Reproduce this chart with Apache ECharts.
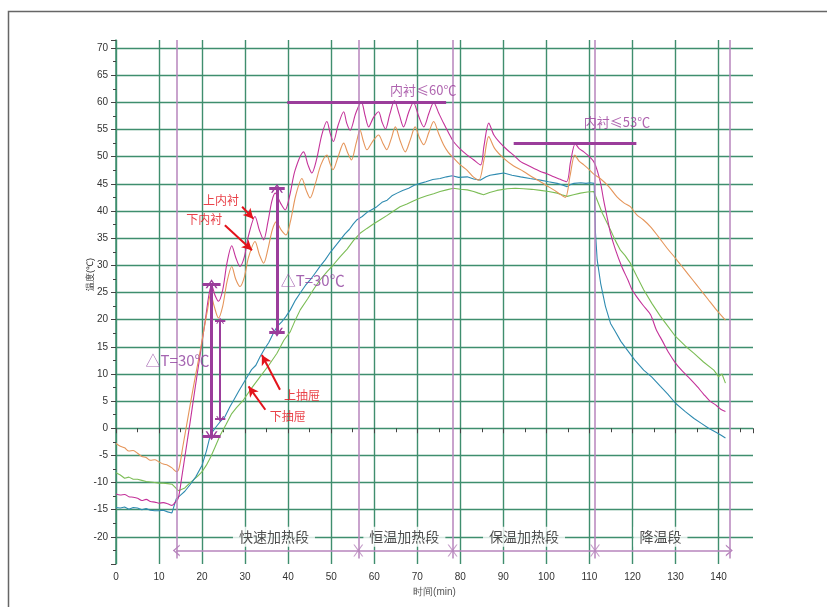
<!DOCTYPE html>
<html lang="zh-CN">
<head>
  <meta charset="utf-8">
  <title>温度曲线</title>
  <script src="https://cdn.jsdelivr.net/npm/echarts@6/dist/echarts.min.js"></script>
  <style>
    html, body { margin: 0; padding: 0; background: #fff; }
    #chart { width: 827px; height: 607px; }
  </style>
</head>
<body>
  <div id="chart"></div>
  <script>
    // 曲线数据：[时间(min), 温度(℃)]
    var upperLiner = [[0,-12.1],[1,-12.3],[2,-12.2],[3,-12.6],[4,-12.7],[5,-12.9],[6,-13.3],[7,-13.1],[8,-13.5],[9,-13.6],[10,-13.8],[11,-13.7],[12,-13.9],[13,-14.2],[13.8,-13.6],[14.5,-12.8],[15.3,-8.9],[16.2,-4.2],[17.2,1],[18.4,7.5],[19.6,13.8],[20.8,20.2],[21.6,24.6],[22.2,26.4],[23,24.5],[23.8,23.4],[24.8,25.5],[25.8,30.5],[26.9,33.6],[27.8,31.5],[28.8,29.8],[29.8,31.5],[30.8,35.5],[32.3,39],[33.3,36.5],[34.3,34.7],[35.3,38],[36.2,41.8],[37,43.3],[38.2,41.5],[39.3,40.2],[40.4,43],[41.6,47.5],[43.6,50.9],[44.6,48.5],[45.5,47],[46.6,49.5],[47.8,54],[49,56.5],[49.8,54.2],[50.5,52.8],[51.6,55.8],[52.9,58.3],[53.6,56.2],[54.4,54.9],[55.7,58],[57,60.1],[57.9,57.5],[58.7,55.5],[59.8,57.2],[61,58.3],[61.8,56.4],[62.6,55.1],[63.6,57.8],[64.7,60.3],[65.8,57.8],[66.8,55.5],[68,58.2],[69.1,60],[70.3,57.5],[71.5,55.5],[72.7,58],[73.8,60],[75,58],[76.1,56.2],[77.2,54.5],[78.4,52.8],[80,51.4],[81.6,50.3],[83,49.5],[84.7,48.5],[85.5,52],[86.6,56.2],[87.8,54],[89.3,52.5],[91,51.2],[92.5,50.2],[94,49.1],[96,48.3],[98.6,47.3],[100,46.9],[101.7,46.3],[103,45.9],[104.7,45.4],[105.6,49],[106.7,52.4],[107.6,51.5],[108.7,50.9],[110,50],[111,49.1],[111.8,47.5],[112.6,45.1],[113.3,42],[114.2,38.5],[114.9,35.9],[116,33],[117.5,29.8],[119,27.2],[119.9,25.5],[121,24.2],[122.5,22.6],[124.2,20.9],[125.5,18.2],[127,16],[128.5,13.8],[130,12],[131.5,10.6],[133,9.4],[135,7.7],[136.5,6.3],[138,5],[139.5,4.2],[140.5,3.5],[141.6,3.1]];
    var lowerLiner = [[0,-2.8],[1,-3.3],[2,-3.6],[3,-4.2],[4,-4.1],[5,-4.6],[6,-5.2],[7,-5.4],[8,-5.9],[9,-5.8],[10,-6.2],[11,-6.6],[12,-6.8],[13,-7.3],[14.1,-8],[14.7,-7.2],[15.5,-3.5],[16.5,1],[17.5,5.5],[18.5,9.8],[19.5,14],[20.5,18.5],[21.3,22],[22,24.8],[22.8,22.5],[23.8,20.3],[24.8,22.5],[25.8,27],[26.9,29.8],[27.8,27.5],[28.8,26.1],[29.8,27.8],[30.8,31.5],[32.3,34.4],[33.3,32],[34.3,30.4],[35.3,33],[36.3,36.5],[37.2,38],[38.4,36.5],[39.5,35.6],[40.5,38],[41.8,43],[43.2,46],[44.2,43.8],[45.1,42.4],[46.3,45],[47.6,48.5],[49,50.3],[49.7,48.8],[50.4,47.6],[51.6,50],[52.9,52.5],[53.8,50.8],[54.7,49.4],[55.8,52.5],[56.7,54.9],[57.5,52.8],[58.3,51.3],[59.6,52.8],[61,54],[62,52.5],[62.9,51.3],[63.9,53.2],[64.9,55.5],[66,53],[67.2,50.9],[68.4,53.2],[69.5,55.5],[70.5,53.5],[71.5,52.2],[72.7,54.5],[73.8,56.5],[75,54.2],[76.1,52.2],[77.2,50.8],[78.4,49.8],[80,48.5],[81.6,47.5],[83,46.3],[84.3,45.7],[85.5,49.5],[86.6,53.7],[88,51.5],[90.1,49.7],[92.4,48.3],[94.7,47.3],[96.6,46.3],[98.6,45.4],[100,44.7],[101.7,43.9],[103,43.2],[104.4,42.5],[105.5,46.5],[106.6,50.3],[107.6,49.2],[108.7,48.5],[110,47.6],[111,46.8],[112.5,46],[114.5,44.5],[116.4,42.6],[118,41.5],[119.5,40.8],[121,39.3],[122.5,38.4],[124.2,37.1],[126,35.3],[128,33.2],[130,31.3],[132,29.3],[134,27.3],[135.8,25.5],[137.5,23.8],[139.5,21.8],[141.6,19.9]];
    var upperDrawer = [[0,-14.6],[1,-14.7],[2,-14.5],[3,-14.9],[4,-14.6],[5,-14.7],[6,-15],[7,-14.8],[8,-15.1],[9,-15.2],[10,-15.2],[11,-15.1],[12,-15.4],[13,-15.6],[14,-13],[15,-12.3],[16,-11.6],[17.2,-10.4],[18.5,-9],[20,-6.8],[21,-4.2],[21.9,-1.3],[23,0],[24.2,1.2],[25.3,2.1],[26.5,4],[27.5,5.4],[28.5,6.8],[29.6,8.3],[30.5,9.5],[31.5,10.8],[32.5,11.6],[33.5,13.2],[34.5,14.6],[35.5,15.8],[36.5,17.4],[37.4,18.7],[38.5,19.6],[39.5,20.6],[40.5,21.8],[41.7,23.6],[42.8,24.9],[44,26.3],[45.2,27.4],[46.3,28.6],[47.4,29.8],[48.6,31],[49.8,32.4],[51,33.6],[52.1,34.7],[53.2,35.8],[54.2,36.6],[55.1,37.6],[56,38.4],[57.2,39],[58.4,39.8],[59.5,40.3],[60.6,40.8],[61.8,41.6],[63,42],[64.1,42.8],[65.3,43.3],[66.6,43.8],[68,44.2],[69.4,44.8],[70.7,45.1],[72,45.4],[73.6,45.8],[75.3,46],[76.8,46.3],[78.1,46.5],[79.6,46.2],[81.6,46.3],[83.1,45.9],[84.7,45.7],[86,46.3],[86.9,46.6],[88.5,46.8],[90.1,47],[92,46.6],[94,46.3],[96.2,46],[98.6,45.7],[100.5,45.4],[102.5,45.1],[103.7,44.8],[104.8,44.5],[105.6,44.9],[106.4,45.1],[108,45.2],[109.2,45.1],[110.2,45.2],[111.1,45.1],[111.4,36],[111.8,31],[112.6,26.7],[113.7,22.5],[114.9,19.3],[116,17.8],[117.3,16],[118.8,14.4],[120.5,12.6],[122.6,10.7],[124.5,9.4],[126.5,7.7],[128.2,6.3],[130,4.6],[132.2,3.1],[134.3,1.8],[136,0.9],[137.7,0],[139.5,-0.8],[140.6,-1.3],[141.6,-1.8]];
    var lowerDrawer = [[0,-8.2],[1,-8.6],[2,-9.2],[3,-9],[4,-9.4],[5,-9.4],[6,-9.6],[7,-9.8],[8,-9.9],[9,-10],[10,-10.1],[11,-10.1],[12,-10.2],[13,-10.3],[14.5,-11.5],[16,-11],[17,-10.2],[18,-9.5],[19,-8.8],[20,-8],[21,-6.8],[22,-5.3],[23,-3.5],[24.2,-1.3],[25.5,0.6],[26.8,2.6],[28,3.8],[29.6,5.2],[31.5,7.4],[33.5,9.5],[35.5,11.6],[37.4,13.8],[39,16.2],[40.5,17.8],[41.7,20],[42.8,21.8],[44.5,23.8],[46,25.7],[47.4,27.3],[49,28.8],[50.6,30.2],[52.1,31.6],[53.7,33],[55.2,34.6],[56.7,35.9],[58.3,36.8],[59.8,37.6],[61.4,38.4],[63,39.2],[64.5,40],[66,40.8],[67.6,41.3],[69.2,41.9],[70.7,42.4],[72.2,42.8],[73.8,43.2],[75.3,43.6],[76.8,43.9],[78.4,44.2],[80,44],[81.6,43.9],[83.1,43.6],[84.2,43.3],[85.4,43],[86.8,43.4],[88.5,43.8],[90.9,44.1],[92.8,44.2],[94.7,44.1],[96.6,44],[98.6,43.8],[100.5,43.6],[102.5,43.3],[103.6,43],[104.8,42.7],[106.3,43],[107.9,43.3],[109.5,43.5],[111,43.6],[111.8,42],[113,39.6],[114,38],[114.9,36.5],[116,34.6],[117.2,32.8],[118.3,31.8],[119.5,30.4],[121,28],[122.6,25.5],[124.5,23],[126.5,20.6],[128.2,18.8],[130,16.9],[132.2,15.2],[134.3,13.8],[136.5,12.2],[138.9,10.7],[140,9.5],[140.8,10],[141.6,8.3]];

    // 阶段分界 (min) 与阶段名称
    var phaseBounds = [14, 56.3, 78.2, 111.3, 142.5];
    var phaseNames = ['快速加热段', '恒温加热段', '保温加热段', '降温段'];
    var phaseLabelX = [36.7, 67, 94.8, 126.5];
    var phaseLabelY = -20;
    var phaseArrowY = -22.5;

    // 限温线 [x起, x止, y]，标注 [x, y, 文本]
    var limitLines = [[39.8, 76.7, 60], [92.4, 120.9, 52.5]];
    var limitTexts = [[71.4, 62.3, '内衬≤60℃'], [116.4, 56.3, '内衬≤53℃']];

    // 温差箭头 [x, y低, y高, 帽宽(min), 线宽]
    var deltaArrows = [[22.2, -1.4, 26.6, 2.1, 3], [24.2, 1.7, 19.8, 1.2, 2], [37.4, 17.7, 44.2, 1.8, 3]];
    var deltaTexts = [[14.3, 12.6, '△T=30℃'], [45.7, 27.3, '△T=30℃']];

    // 红色指示 [文本x, 文本y, 文本, 箭头起x, 起y, 止x, 止y]
    var pointers = [
      [24.4, 41.9, '上内衬', 29.3, 40.8, 31.9, 38.6],
      [20.5, 38.4, '下内衬', 25.3, 37.4, 31.6, 32.8],
      [43.2, 6.1, '上抽屉', 38.1, 7.1, 33.9, 13.5],
      [39.9, 2.1, '下抽屉', 34.7, 3.4, 30.8, 7.7]
    ];

    var purple = '#9b3d9b';
    var boundPurple = '#b784bc';
    var gridGreen = '#3f8e6e';
    var chevron = 'path://M0,10 L5,0 L10,10 L8.6,10 L5,2.8 L1.4,10 Z';
    var cross = 'path://M0,0 L1.3,0 L5,4.3 L8.7,0 L10,0 L5.7,5 L10,10 L8.7,10 L5,5.7 L1.3,10 L0,10 L4.3,5 Z';

    var chart = echarts.init(document.getElementById('chart'));

    function curve(name, data, color, smooth) {
      return {
        name: name, type: 'line', data: data, symbol: 'none', z: 3, smooth: smooth || false,
        lineStyle: { color: color, width: 1.1 }
      };
    }

    // 阶段分界竖线与阶段箭头
    var boundLines = phaseBounds.map(function (x) {
      return [{ coord: [x, -24] }, { coord: [x, 71.5] }];
    });
    var phaseArrow = [[{ coord: [phaseBounds[0], phaseArrowY], symbol: chevron },
                       { coord: [phaseBounds[phaseBounds.length - 1], phaseArrowY], symbol: chevron }]];

    var annotLines = limitLines.map(function (l) {
      return [{ coord: [l[0], l[2]] }, { coord: [l[1], l[2]] }];
    });

    var deltaLines = [];
    deltaArrows.forEach(function (a) {
      var style = { color: purple, width: a[4] };
      deltaLines.push([{ coord: [a[0], a[1]], lineStyle: style, symbol: chevron, symbolSize: [a[4] * 4, a[4] * 3] },
                       { coord: [a[0], a[2]], lineStyle: style, symbol: chevron, symbolSize: [a[4] * 4, a[4] * 3] }]);
      deltaLines.push([{ coord: [a[0] - a[3], a[1]], lineStyle: style, symbol: 'none' }, { coord: [a[0] + a[3], a[1]], symbol: 'none' }]);
      deltaLines.push([{ coord: [a[0] - a[3], a[2]], lineStyle: style, symbol: 'none' }, { coord: [a[0] + a[3], a[2]], symbol: 'none' }]);
    });

    var pointerLines = pointers.map(function (p) {
      return [{ coord: [p[3], p[4]] }, { coord: [p[5], p[6]] }];
    });

    function textSeries(items, style) {
      return {
        type: 'scatter', symbolSize: 0, z: 6, silent: true,
        data: items.map(function (t) { return { value: [t[0], t[1]], name: t[2] }; }),
        label: Object.assign({ show: true, position: 'inside', formatter: '{b}' }, style)
      };
    }

    chart.setOption({
      animation: false,
      backgroundColor: '#fff',
      grid: { left: 116, right: 74, top: 40, bottom: 43 },
      xAxis: {
        type: 'value', min: 0, max: 148, interval: 10,
        name: '时间(min)', nameLocation: 'middle', nameGap: 20,
        nameTextStyle: { fontSize: 10, color: '#555' },
        axisLine: { show: false },
        axisTick: { show: true, length: 5, lineStyle: { color: '#444' } },
        minorTick: { show: true, splitNumber: 2, length: 4, lineStyle: { color: '#444' } },
        axisLabel: { fontSize: 10, color: '#333', margin: 8, showMaxLabel: false,
          formatter: function (v) { return v > 140 ? '' : v; } },
        splitLine: { show: true, showMaxLine: false, lineStyle: { color: gridGreen, width: 1.4 } }
      },
      yAxis: {
        type: 'value', min: -25, max: 71.5, interval: 5,
        axisLine: { show: true, lineStyle: { color: gridGreen, width: 1.5 } },
        axisTick: { show: true, length: 5, lineStyle: { color: '#444' } },
        minorTick: { show: true, splitNumber: 2, length: 3, lineStyle: { color: '#444' } },
        axisLabel: { fontSize: 10, color: '#333', margin: 8, showMinLabel: false, showMaxLabel: false,
          formatter: function (v) { return v > 70 ? '' : v; } },
        splitLine: { show: true, showMinLine: false, showMaxLine: false, lineStyle: { color: gridGreen, width: 1.4 } }
      },
      graphic: [
        { type: 'rect', left: 6, top: 9, shape: { width: 900, height: 700 }, silent: true,
          style: { fill: 'none', stroke: '#666', lineWidth: 1.5 } },
        { type: 'text', left: 86, top: 258, rotation: Math.PI / 2, silent: true,
          style: { text: '温度(℃)', fontSize: 9, fill: '#222' } }
      ],
      series: [
        curve('下抽屉', lowerDrawer, '#7cbd56'),
        curve('上抽屉', upperDrawer, '#2f8bb0'),
        curve('上内衬', upperLiner, '#c4329a', 0.3),
        curve('下内衬', lowerLiner, '#e5955a', 0.3),
        {
          type: 'line', data: [], z: 2,
          markLine: {
            silent: true, symbol: 'none', label: { show: false }, animation: false,
            lineStyle: { color: boundPurple, width: 1.5, type: 'solid' },
            data: boundLines
          }
        },
        {
          type: 'line', data: [], z: 4,
          markLine: {
            silent: true, symbolSize: [12, 7], label: { show: false }, animation: false,
            lineStyle: { color: boundPurple, width: 1.5, type: 'solid' },
            data: phaseArrow
          }
        },
        {
          type: 'scatter', z: 4, silent: true, symbol: cross, symbolSize: [10, 12],
          itemStyle: { color: boundPurple },
          data: phaseBounds.slice(1, -1).map(function (x) { return [x, phaseArrowY]; })
        },
        {
          type: 'line', data: [], z: 5,
          markLine: {
            silent: true, symbol: 'none', label: { show: false }, animation: false,
            lineStyle: { color: purple, width: 3, type: 'solid' },
            data: annotLines.concat(deltaLines)
          }
        },
        {
          type: 'line', data: [], z: 5,
          markLine: {
            silent: true, symbol: ['none', 'arrow'], symbolSize: [8, 10], label: { show: false }, animation: false,
            lineStyle: { color: '#e3131b', width: 2, type: 'solid' },
            data: pointerLines
          }
        },
        textSeries(phaseNames.map(function (n, i) { return [phaseLabelX[i], phaseLabelY, n]; }),
          { fontSize: 14, color: '#222', fontFamily: 'Noto Sans CJK SC', backgroundColor: '#fff', padding: [3, 6] }),
        textSeries(limitTexts, { fontSize: 13, color: purple, fontFamily: 'Noto Sans CJK SC' }),
        textSeries(deltaTexts, { fontSize: 15, color: '#8e3f9e', fontFamily: 'Noto Sans CJK SC' }),
        textSeries(pointers, { fontSize: 12, color: '#e3131b', fontFamily: 'Noto Sans CJK SC' })
      ]
    });
  </script>
</body>
</html>
